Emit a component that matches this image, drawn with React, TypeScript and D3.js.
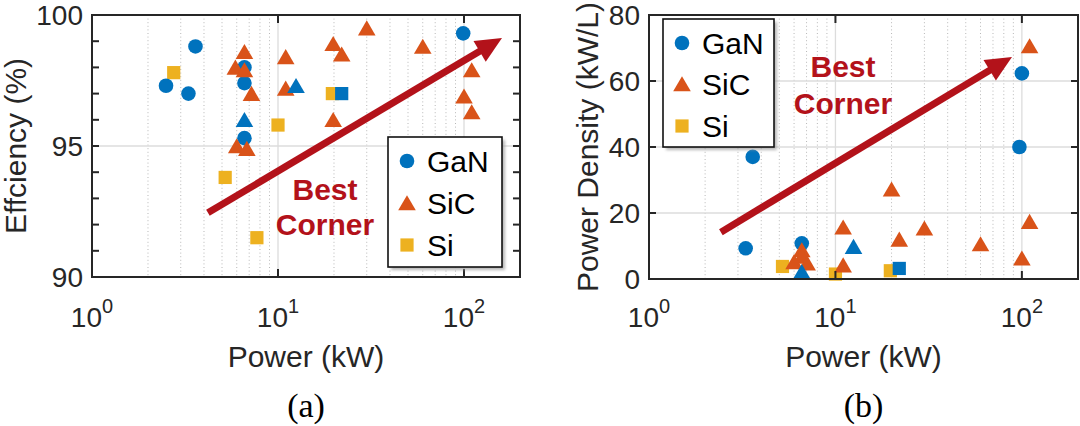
import * as d3 from "d3";

const SANS = "'Liberation Sans', Arial, Helvetica, sans-serif";
const SERIF = "'Liberation Serif', 'Times New Roman', serif";
const BLUE = "#0072BD";
const ORANGE = "#D95319";
const YELLOW = "#EDB120";
const RED = "#B3121A";
const INK = "#262626";

type Pt = [number, number]; // [power kW, value]
type Shape = "circle" | "triangle" | "square";

// (a) efficiency (%) vs power (kW)
const effGaN: Pt[] = [[2.5, 97.3], [3.3, 97.0], [3.6, 98.8], [6.6, 98.0], [6.6, 97.4], [6.6, 95.3], [99, 99.3]];
const effGaNTri: Pt[] = [[6.6, 96.0], [12.5, 97.3]];
const effGaNSq: Pt[] = [[22, 97.0]];
const effSiC: Pt[] = [
  [6.6, 98.6], [5.9, 98.0], [6.6, 97.9], [7.2, 97.0], [6.0, 95.0], [6.8, 94.9],
  [11, 98.4], [11, 97.2], [19.8, 98.9], [22, 98.5], [30, 99.5], [19.8, 96.0],
  [60, 98.8], [110, 97.9], [100, 96.9], [110, 96.3],
];
const effSi: Pt[] = [[2.75, 97.8], [10, 95.8], [5.2, 93.8], [7.7, 91.5], [19.6, 97.0]];

// (b) power density (kW/L) vs power (kW)
const pdGaN: Pt[] = [[3.6, 37], [3.3, 9.3], [6.6, 10.8], [100, 62.3], [97, 40]];
const pdGaNTri: Pt[] = [[6.6, 2.2], [12.5, 9.8]];
const pdGaNSq: Pt[] = [[22, 3.2]];
const pdSiC: Pt[] = [
  [6.6, 8.8], [6.6, 6.8], [6.0, 5.2], [7.05, 4.8], [11, 15.7], [11, 4.2],
  [20, 27.2], [22, 12], [30, 15.4], [60, 10.6], [110, 70.6], [110, 17.4], [100, 6.3],
];
const pdSi: Pt[] = [[5.2, 3.8], [10, 1.5], [19.7, 2.5]];

// "Best Corner" arrows, [start, end] in data coordinates
const effArrow: Pt[] = [[4.2, 92.45], [160, 99.12]];
const pdArrow: Pt[] = [[2.43, 14.2], [88.5, 67.3]];

const legendItems: { name: string; shape: Shape; color: string }[] = [
  { name: "GaN", shape: "circle", color: BLUE },
  { name: "SiC", shape: "triangle", color: ORANGE },
  { name: "Si", shape: "square", color: YELLOW },
];

const xExponents = [0, 1, 2];

function Marker({ shape, color, cx, cy }: { shape: Shape; color: string; cx: number; cy: number }) {
  if (shape === "circle") return <circle cx={cx} cy={cy} r={7.3} fill={color} />;
  if (shape === "square") return <rect x={cx - 6.6} y={cy - 6.6} width={13.2} height={13.2} fill={color} />;
  return <polygon points={`${cx},${cy - 7.8} ${cx + 8.8},${cy + 7.3} ${cx - 8.8},${cy + 7.3}`} fill={color} />;
}

interface PanelCfg {
  left: number; right: number; top: number; bottom: number;
  yDomain: [number, number];
  yTickCount: number; yLabelCount: number;
  yTitle: string; yTitleX: number;
  series: { pts: Pt[]; shape: Shape; color: string }[];
  arrow: Pt[];
  legend: { x: number; y: number; w: number; h: number; rows: number[] };
  best: { x: number; y1: number; y2: number };
  tag: string;
}

function Panel({ c }: { c: PanelCfg }) {
  const x = d3.scaleLog().domain([1, 200]).range([c.left, c.right]);
  const y = d3.scaleLinear().domain(c.yDomain).range([c.bottom, c.top]);
  const minor = x.ticks().filter((v) => v > 1 && v < 100 && Math.abs(Math.log10(v) - Math.round(Math.log10(v))) > 1e-6);
  const majorGrid = [10, 100];
  const yTicks = y.ticks(c.yTickCount);
  const yLabels = y.ticks(c.yLabelCount);
  const yGrid = yLabels.filter((v) => v > c.yDomain[0] && v < c.yDomain[1]);
  const cxMid = (c.left + c.right) / 2;
  const cyMid = (c.top + c.bottom) / 2;

  const [a0, a1] = c.arrow;
  const p0 = [x(a0[0]), y(a0[1])];
  const p1 = [x(a1[0]), y(a1[1])];
  const dx = p1[0] - p0[0], dy = p1[1] - p0[1];
  const len = Math.hypot(dx, dy);
  const ux = dx / len, uy = dy / len;
  const hl = 26, hw = 12;
  const bx = p1[0] - ux * hl, by = p1[1] - uy * hl;
  const head = `${p1[0]},${p1[1]} ${bx - uy * hw},${by + ux * hw} ${bx + uy * hw},${by - ux * hw}`;

  return (
    <g>
      {/* grid */}
      {minor.map((v) => (
        <line key={"m" + v} x1={x(v)} x2={x(v)} y1={c.top} y2={c.bottom} stroke="#b8b8b8" strokeWidth={1} strokeDasharray="1 2.6" />
      ))}
      {majorGrid.map((v) => (
        <line key={"g" + v} x1={x(v)} x2={x(v)} y1={c.top} y2={c.bottom} stroke="#dcdcdc" strokeWidth={1.3} />
      ))}
      {yGrid.map((v) => (
        <line key={"yg" + v} x1={c.left} x2={c.right} y1={y(v)} y2={y(v)} stroke="#dcdcdc" strokeWidth={1.3} />
      ))}

      {/* data */}
      {c.series.map((s, i) =>
        s.pts.map((p, j) => <Marker key={i + "-" + j} shape={s.shape} color={s.color} cx={x(p[0])} cy={y(p[1])} />)
      )}

      {/* arrow */}
      <line x1={p0[0]} y1={p0[1]} x2={bx + ux * 2} y2={by + uy * 2} stroke={RED} strokeWidth={7} />
      <polygon points={head} fill={RED} />
      <text x={c.best.x} y={c.best.y1} textAnchor="middle" fontFamily={SANS} fontWeight="bold" fontSize={30} fill={RED}>Best</text>
      <text x={c.best.x} y={c.best.y2} textAnchor="middle" fontFamily={SANS} fontWeight="bold" fontSize={30} fill={RED}>Corner</text>

      {/* axes box and ticks */}
      {xExponents.map((e) => (
        <g key={"xt" + e}>
          <line x1={x(10 ** e)} x2={x(10 ** e)} y1={c.bottom} y2={c.bottom - 8} stroke={INK} strokeWidth={2} />
          <line x1={x(10 ** e)} x2={x(10 ** e)} y1={c.top} y2={c.top + 8} stroke={INK} strokeWidth={2} />
          <text x={x(10 ** e)} y={327} textAnchor="middle" fontFamily={SANS} fontSize={28} fill={INK}>
            10<tspan dy={-14} fontSize={20}>{e}</tspan>
          </text>
        </g>
      ))}
      {yTicks.map((v) => (
        <g key={"yt" + v}>
          <line x1={c.left} x2={c.left + 7} y1={y(v)} y2={y(v)} stroke={INK} strokeWidth={2} />
          <line x1={c.right} x2={c.right - 7} y1={y(v)} y2={y(v)} stroke={INK} strokeWidth={2} />
        </g>
      ))}
      {yLabels.map((v) => (
        <text key={"yl" + v} x={c.left - 9} y={y(v)} dy="0.36em" textAnchor="end" fontFamily={SANS} fontSize={28} fill={INK}>
          {v}
        </text>
      ))}
      <rect x={c.left} y={c.top} width={c.right - c.left} height={c.bottom - c.top} fill="none" stroke={INK} strokeWidth={2} />

      {/* titles */}
      <text x={cxMid} y={367} textAnchor="middle" fontFamily={SANS} fontSize={30} fill={INK}>Power (kW)</text>
      <text transform={`translate(${c.yTitleX},${cyMid}) rotate(-90)`} textAnchor="middle" fontFamily={SANS} fontSize={30} fill={INK}>
        {c.yTitle}
      </text>
      <text x={cxMid} y={417} textAnchor="middle" fontFamily={SERIF} fontSize={34} fill="#000">{c.tag}</text>

      {/* legend */}
      <rect x={c.legend.x + 3} y={c.legend.y + 3} width={c.legend.w} height={c.legend.h} fill="#9a9a9a" opacity={0.7} filter="url(#blur)" />
      <rect x={c.legend.x} y={c.legend.y} width={c.legend.w} height={c.legend.h} fill="#fff" stroke="#111" strokeWidth={1.6} />
      {legendItems.map((it, i) => (
        <g key={it.name}>
          <Marker shape={it.shape} color={it.color} cx={c.legend.x + 19} cy={c.legend.y + c.legend.rows[i]} />
          <text x={c.legend.x + 39} y={c.legend.y + c.legend.rows[i]} dy="0.36em" fontFamily={SANS} fontSize={30} fill="#000">
            {it.name}
          </text>
        </g>
      ))}
    </g>
  );
}

const panelA: PanelCfg = {
  left: 92, right: 520, top: 15, bottom: 277,
  yDomain: [90, 100], yTickCount: 10, yLabelCount: 2,
  yTitle: "Effciency (%)", yTitleX: 26,
  series: [
    { pts: effSi, shape: "square", color: YELLOW },
    { pts: effGaN, shape: "circle", color: BLUE },
    { pts: effSiC, shape: "triangle", color: ORANGE },
    { pts: effGaNTri, shape: "triangle", color: BLUE },
    { pts: effGaNSq, shape: "square", color: BLUE },
  ],
  arrow: effArrow,
  legend: { x: 388, y: 137, w: 114, h: 130, rows: [24, 66, 108] },
  best: { x: 325, y1: 200, y2: 235 },
  tag: "(a)",
};

const panelB: PanelCfg = {
  left: 649, right: 1078, top: 15, bottom: 279,
  yDomain: [0, 80], yTickCount: 4, yLabelCount: 4,
  yTitle: "Power Density (kW/L)", yTitleX: 598,
  series: [
    { pts: pdSi, shape: "square", color: YELLOW },
    { pts: pdGaN, shape: "circle", color: BLUE },
    { pts: pdSiC, shape: "triangle", color: ORANGE },
    { pts: pdGaNTri, shape: "triangle", color: BLUE },
    { pts: pdGaNSq, shape: "square", color: BLUE },
  ],
  arrow: pdArrow,
  legend: { x: 663, y: 19, w: 111, h: 128, rows: [24, 65, 107] },
  best: { x: 843, y1: 77, y2: 114 },
  tag: "(b)",
};

export default function App() {
  return (
    <div style={{ position: "absolute", left: 0, top: 0, background: "#fff" }}>
      <svg width={1080} height={426} viewBox="0 0 1080 426" style={{ display: "block" }}>
        <defs>
          <filter id="blur" x="-10%" y="-10%" width="120%" height="120%">
            <feGaussianBlur stdDeviation="1.5" />
          </filter>
        </defs>
        <rect width={1080} height={426} fill="#fff" />
        <Panel c={panelA} />
        <Panel c={panelB} />
      </svg>
    </div>
  );
}
